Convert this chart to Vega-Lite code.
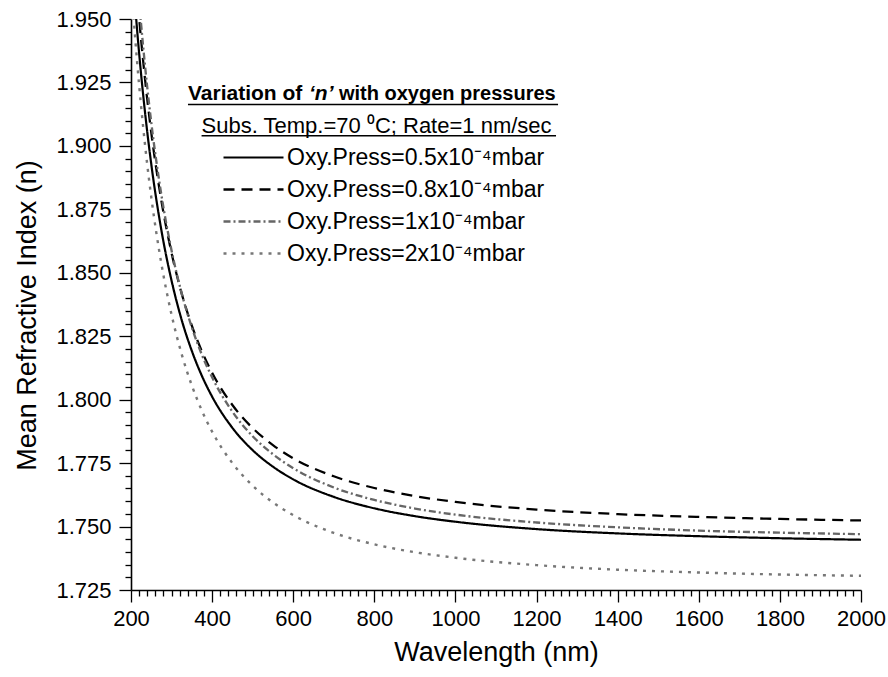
{
  "$schema": "https://vega.github.io/schema/vega-lite/v6.json",
  "width": 730,
  "height": 571,
  "autosize": {"type": "none"},
  "padding": {"left": 131, "top": 19, "right": 27, "bottom": 87},
  "background": "white",
  "config": {
    "view": {"stroke": null},
    "font": "Liberation Sans",
    "axis": {
      "domainColor": "black",
      "domainWidth": 1.6,
      "tickColor": "black",
      "tickWidth": 1.3,
      "labelColor": "black",
      "labelFont": "Liberation Sans",
      "labelFontSize": 22,
      "titleFont": "Liberation Sans",
      "titleFontSize": 27,
      "titleFontWeight": "normal",
      "titleColor": "black",
      "grid": false,
      "labelOverlap": false,
      "labelFlush": false,
      "tickCount": 200
    },
    "legend": {
      "orient": "none",
      "legendX": 111,
      "legendY": 127,
      "padding": 0,
      "symbolType": "M-3,0H3",
      "symbolSize": 400,
      "labelFont": "Liberation Sans",
      "labelFontSize": 23,
      "labelColor": "black",
      "labelOffset": 22,
      "rowPadding": 8,
      "labelLimit": 400
    }
  },
  "datasets": {
    "curves": [
      {"p": "0.5", "wl": 210, "n": 1.9555}, {"p": "0.5", "wl": 220, "n": 1.9366}, {"p": "0.5", "wl": 230, "n": 1.9201}, {"p": "0.5", "wl": 240, "n": 1.9056}, {"p": "0.5", "wl": 250, "n": 1.8928}, {"p": "0.5", "wl": 275, "n": 1.8667}, {"p": "0.5", "wl": 300, "n": 1.8469}, {"p": "0.5", "wl": 325, "n": 1.8314}, {"p": "0.5", "wl": 350, "n": 1.8192}, {"p": "0.5", "wl": 375, "n": 1.8093}, {"p": "0.5", "wl": 400, "n": 1.8012}, {"p": "0.5", "wl": 450, "n": 1.7889}, {"p": "0.5", "wl": 500, "n": 1.7801}, {"p": "0.5", "wl": 550, "n": 1.7736}, {"p": "0.5", "wl": 600, "n": 1.7686}, {"p": "0.5", "wl": 700, "n": 1.7617}, {"p": "0.5", "wl": 800, "n": 1.7572}, {"p": "0.5", "wl": 900, "n": 1.7541}, {"p": "0.5", "wl": 1000, "n": 1.7519}, {"p": "0.5", "wl": 1200, "n": 1.7490}, {"p": "0.5", "wl": 1400, "n": 1.7473}, {"p": "0.5", "wl": 1600, "n": 1.7462}, {"p": "0.5", "wl": 1800, "n": 1.7454}, {"p": "0.5", "wl": 2000, "n": 1.7448},
      {"p": "0.8", "wl": 210, "n": 1.9700}, {"p": "0.8", "wl": 220, "n": 1.9504}, {"p": "0.8", "wl": 230, "n": 1.9334}, {"p": "0.8", "wl": 240, "n": 1.9184}, {"p": "0.8", "wl": 250, "n": 1.9052}, {"p": "0.8", "wl": 275, "n": 1.8783}, {"p": "0.8", "wl": 300, "n": 1.8578}, {"p": "0.8", "wl": 325, "n": 1.8418}, {"p": "0.8", "wl": 350, "n": 1.8292}, {"p": "0.8", "wl": 375, "n": 1.8190}, {"p": "0.8", "wl": 400, "n": 1.8106}, {"p": "0.8", "wl": 450, "n": 1.7979}, {"p": "0.8", "wl": 500, "n": 1.7888}, {"p": "0.8", "wl": 550, "n": 1.7821}, {"p": "0.8", "wl": 600, "n": 1.7769}, {"p": "0.8", "wl": 700, "n": 1.7698}, {"p": "0.8", "wl": 800, "n": 1.7652}, {"p": "0.8", "wl": 900, "n": 1.7620}, {"p": "0.8", "wl": 1000, "n": 1.7597}, {"p": "0.8", "wl": 1200, "n": 1.7567}, {"p": "0.8", "wl": 1400, "n": 1.7549}, {"p": "0.8", "wl": 1600, "n": 1.7538}, {"p": "0.8", "wl": 1800, "n": 1.7530}, {"p": "0.8", "wl": 2000, "n": 1.7524},
      {"p": "1", "wl": 210, "n": 1.9780}, {"p": "1", "wl": 220, "n": 1.9572}, {"p": "1", "wl": 230, "n": 1.9391}, {"p": "1", "wl": 240, "n": 1.9232}, {"p": "1", "wl": 250, "n": 1.9092}, {"p": "1", "wl": 275, "n": 1.8806}, {"p": "1", "wl": 300, "n": 1.8588}, {"p": "1", "wl": 325, "n": 1.8419}, {"p": "1", "wl": 350, "n": 1.8285}, {"p": "1", "wl": 375, "n": 1.8176}, {"p": "1", "wl": 400, "n": 1.8088}, {"p": "1", "wl": 450, "n": 1.7953}, {"p": "1", "wl": 500, "n": 1.7856}, {"p": "1", "wl": 550, "n": 1.7785}, {"p": "1", "wl": 600, "n": 1.7730}, {"p": "1", "wl": 700, "n": 1.7654}, {"p": "1", "wl": 800, "n": 1.7605}, {"p": "1", "wl": 900, "n": 1.7571}, {"p": "1", "wl": 1000, "n": 1.7547}, {"p": "1", "wl": 1200, "n": 1.7516}, {"p": "1", "wl": 1400, "n": 1.7497}, {"p": "1", "wl": 1600, "n": 1.7484}, {"p": "1", "wl": 1800, "n": 1.7476}, {"p": "1", "wl": 2000, "n": 1.7470},
      {"p": "2", "wl": 200, "n": 1.9652}, {"p": "2", "wl": 210, "n": 1.9431}, {"p": "2", "wl": 220, "n": 1.9240}, {"p": "2", "wl": 230, "n": 1.9074}, {"p": "2", "wl": 240, "n": 1.8927}, {"p": "2", "wl": 250, "n": 1.8798}, {"p": "2", "wl": 275, "n": 1.8535}, {"p": "2", "wl": 300, "n": 1.8335}, {"p": "2", "wl": 325, "n": 1.8179}, {"p": "2", "wl": 350, "n": 1.8056}, {"p": "2", "wl": 375, "n": 1.7956}, {"p": "2", "wl": 400, "n": 1.7874}, {"p": "2", "wl": 450, "n": 1.7750}, {"p": "2", "wl": 500, "n": 1.7661}, {"p": "2", "wl": 550, "n": 1.7595}, {"p": "2", "wl": 600, "n": 1.7545}, {"p": "2", "wl": 700, "n": 1.7475}, {"p": "2", "wl": 800, "n": 1.7430}, {"p": "2", "wl": 900, "n": 1.7399}, {"p": "2", "wl": 1000, "n": 1.7377}, {"p": "2", "wl": 1200, "n": 1.7348}, {"p": "2", "wl": 1400, "n": 1.7330}, {"p": "2", "wl": 1600, "n": 1.7319}, {"p": "2", "wl": 1800, "n": 1.7311}, {"p": "2", "wl": 2000, "n": 1.7306}
    ]
  },
  "layer": [
    {
      "data": {"name": "curves"},
      "mark": {"type": "line", "clip": true, "interpolate": "monotone"},
      "encoding": {
        "x": {
          "field": "wl", "type": "quantitative",
          "scale": {"domain": [200, 2000], "nice": false, "zero": false},
          "axis": {
            "title": "Wavelength (nm)",
            "tickCount": 200,
            "values": [200,220,240,260,280,300,320,340,360,380,400,420,440,460,480,500,520,540,560,580,600,620,640,660,680,700,720,740,760,780,800,820,840,860,880,900,920,940,960,980,1000,1020,1040,1060,1080,1100,1120,1140,1160,1180,1200,1220,1240,1260,1280,1300,1320,1340,1360,1380,1400,1420,1440,1460,1480,1500,1520,1540,1560,1580,1600,1620,1640,1660,1680,1700,1720,1740,1760,1780,1800,1820,1840,1860,1880,1900,1920,1940,1960,1980,2000],
            "format": "d",
            "labelExpr": "datum.value % 200 === 0 ? datum.label : ''",
            "tickSize": {"condition": {"test": "datum.value % 200 === 0", "value": 12}, "value": 6},
            "labelPadding": 6,
            "titlePadding": 10
          }
        },
        "y": {
          "field": "n", "type": "quantitative",
          "scale": {"domain": [1.725, 1.95], "nice": false, "zero": false},
          "axis": {
            "title": "Mean Refractive Index (n)",
            "tickCount": 200,
            "values": [1.725,1.73,1.735,1.74,1.745,1.75,1.755,1.76,1.765,1.77,1.775,1.78,1.785,1.79,1.795,1.8,1.805,1.81,1.815,1.82,1.825,1.83,1.835,1.84,1.845,1.85,1.855,1.86,1.865,1.87,1.875,1.88,1.885,1.89,1.895,1.9,1.905,1.91,1.915,1.92,1.925,1.93,1.935,1.94,1.945,1.95],
            "labelExpr": "round(datum.value * 1000) % 25 === 0 ? format(datum.value, '.3f') : ''",
            "tickSize": {"condition": {"test": "round(datum.value * 1000) % 25 === 0", "value": 12}, "value": 6},
            "labelPadding": 8,
            "titlePadding": 14,
            "titleY": 296
          }
        },
        "color": {
          "field": "p", "type": "nominal",
          "scale": {"domain": ["0.5", "0.8", "1", "2"], "range": ["#000000", "#000000", "#666666", "#777777"]},
          "legend": {"title": null, "labelExpr": "'Oxy.Press=' + datum.label + 'x10⁻⁴mbar'"}
        },
        "strokeDash": {
          "field": "p", "type": "nominal",
          "scale": {"domain": ["0.5", "0.8", "1", "2"], "range": [[1, 0], [11, 7], [7, 3, 2, 3], [3, 6]]},
          "legend": {"title": null, "labelExpr": "'Oxy.Press=' + datum.label + 'x10⁻⁴mbar'"}
        },
        "strokeWidth": {
          "field": "p", "type": "nominal",
          "scale": {"domain": ["0.5", "0.8", "1", "2"], "range": [2.2, 2.4, 1.8, 1.8]},
          "legend": {"title": null, "labelExpr": "'Oxy.Press=' + datum.label + 'x10⁻⁴mbar'"}
        }
      }
    },
    {
      "data": {"values": [{}]},
      "mark": {"type": "text", "text": "Variation of", "font": "Liberation Sans", "fontSize": 21, "fontWeight": "bold", "align": "left", "baseline": "alphabetic", "color": "black"},
      "encoding": {"x": {"datum": 340.5, "type": "quantitative"}, "y": {"datum": 1.9179, "type": "quantitative"}}
    },
    {
      "data": {"values": [{}]},
      "mark": {"type": "text", "text": "‘n’", "font": "Liberation Sans", "fontSize": 21, "fontWeight": "bold", "fontStyle": "italic", "align": "left", "baseline": "alphabetic", "color": "black"},
      "encoding": {"x": {"datum": 638.9, "type": "quantitative"}, "y": {"datum": 1.9179, "type": "quantitative"}}
    },
    {
      "data": {"values": [{}]},
      "mark": {"type": "text", "text": "with oxygen pressures", "font": "Liberation Sans", "fontSize": 20, "fontWeight": "bold", "align": "left", "baseline": "alphabetic", "color": "black"},
      "encoding": {"x": {"datum": 712.8, "type": "quantitative"}, "y": {"datum": 1.9179, "type": "quantitative"}}
    },
    {
      "data": {"values": [{}]},
      "mark": {"type": "text", "text": "Subs. Temp.=70 ⁰C; Rate=1 nm/sec", "font": "Liberation Sans", "fontSize": 22, "align": "left", "baseline": "alphabetic", "color": "black"},
      "encoding": {"x": {"datum": 374, "type": "quantitative"}, "y": {"datum": 1.9051, "type": "quantitative"}}
    },
    {
      "data": {"values": [{}]},
      "mark": {"type": "rule", "color": "black", "strokeWidth": 1.3},
      "encoding": {"x": {"datum": 340.5, "type": "quantitative"}, "x2": {"datum": 1253}, "y": {"datum": 1.9163, "type": "quantitative"}}
    },
    {
      "data": {"values": [{}]},
      "mark": {"type": "rule", "color": "black", "strokeWidth": 1.3},
      "encoding": {"x": {"datum": 374, "type": "quantitative"}, "x2": {"datum": 1248}, "y": {"datum": 1.9040, "type": "quantitative"}}
    }
  ]
}
